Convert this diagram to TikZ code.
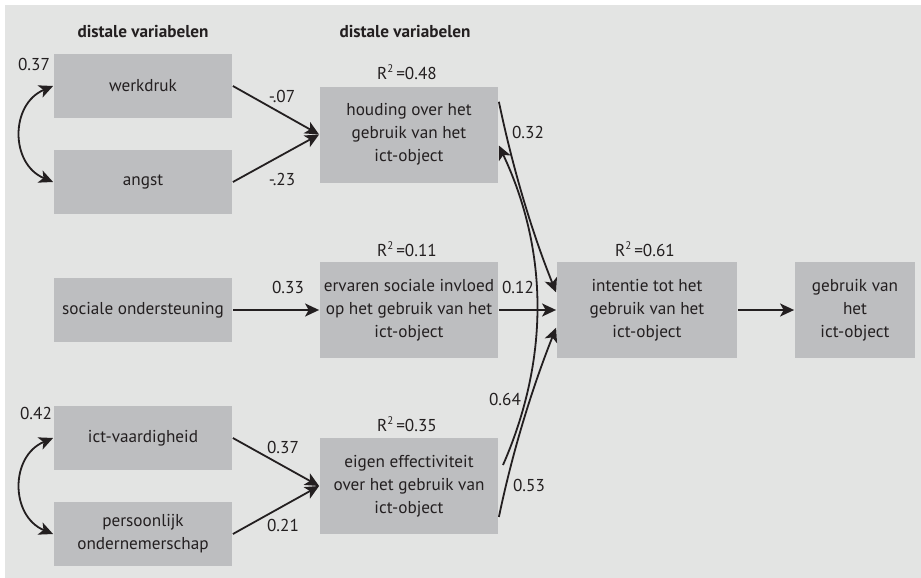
\documentclass[tikz,border=0pt]{standalone}
\usepackage{fontspec}
\setmainfont{PT Sans}
\usetikzlibrary{arrows.meta}
\definecolor{bgGrey}{HTML}{E3E4E3}
\definecolor{boxGrey}{HTML}{BDBEC0}
\definecolor{inkGrey}{HTML}{231F20}
\newcommand{\rkw}{R\raisebox{0.8ex}{\fontsize{5.5}{5.5}\selectfont 2}\,=}
\begin{document}
\begin{tikzpicture}[x=0.5pt, y=-0.5pt,
    font=\fontsize{8.6}{11.5}\selectfont, color=inkGrey, line width=0.9pt,
    >={Stealth[length=7pt,width=6.5pt,inset=1.8pt]},
    var/.style={fill=boxGrey, minimum width=89pt, minimum height=48pt, align=center, inner sep=0pt},
    lbl/.style={inner sep=0pt},
    kop/.style={font=\fontsize{8.6}{11.5}\selectfont\bfseries}]
  \useasboundingbox (0,0) rectangle (921,578);
  \fill[bgGrey] (5,5) rectangle (921,578);
  % HEADERS
  \node[kop] (kopLinks) at (143,32) {distale variabelen};
  \node[kop] (kopMidden) at (405,32) {distale variabelen};
  % DISTAL VARIABLES
  \node[var, minimum height=32pt] (werkdruk) at (143,86) {werkdruk};
  \node[var, minimum height=32pt] (angst) at (143,182) {angst};
  \node[var, minimum height=32pt] (socSteun) at (143,310) {sociale ondersteuning};
  \node[var, minimum height=32pt] (ictVaard) at (143,438) {ict-vaardigheid};
  \node[var, minimum height=32pt] (persOnd) at (143,534) {persoonlijk\\ondernemerschap};
  % PROXIMAL VARIABLES
  \node[var] (houding) at (409,134.5) {houding over het\\gebruik van het\\ict-object};
  \node[var] (socInvloed) at (409,310) {ervaren sociale invloed\\op het gebruik van het\\ict-object};
  \node[var] (eigenEff) at (409,486) {eigen effectiviteit\\over het gebruik van\\ict-object};
  \node[var, minimum width=90pt] (intentie) at (647,310) {intentie tot het\\gebruik van het\\ict-object};
  \node[var, minimum width=60pt] (gebruik) at (855,310) {gebruik van\\het\\ict-object};
  % R SQUARED
  \node[lbl] (rHouding) at (407,72) {\rkw0.48};
  \node[lbl] (rInvloed) at (407,249) {\rkw0.11};
  \node[lbl] (rEigen) at (407,424) {\rkw0.35};
  \node[lbl] (rIntentie) at (645,249) {\rkw0.61};
  % CORRELATIONS
  \draw[<->] (werkdruk.west) .. controls (10,104) and (10,164) .. (angst.west);
  \draw[<->] (ictVaard.west) .. controls (10,456) and (10,516) .. (persOnd.west);
  \node[lbl] (cTop) at (34,64) {0.37};
  \node[lbl] (cBottom) at (36,413) {0.42};
  % PATHS LEFT
  \draw[->] (werkdruk.east) -- (houding.west);
  \draw[->] (angst.east) -- (houding.west);
  \draw[->] (socSteun.east) -- (socInvloed.west);
  \draw[->] (ictVaard.east) -- (eigenEff.west);
  \draw[->] (persOnd.east) -- (eigenEff.west);
  \node[lbl] (bWerk) at (282,96) {-.07};
  \node[lbl] (bAngst) at (282,179) {-.23};
  \node[lbl] (bSteun) at (288,287) {0.33};
  \node[lbl] (bVaard) at (283,447) {0.37};
  \node[lbl] (bPers) at (283,525) {0.21};
  % PATHS RIGHT
  \coordinate (boogStart) at (503,465);
  \draw[->] (boogStart) .. controls (549,360) and (549,252) .. (houding.-7);
  \draw[->] (houding.20) .. controls (512,165) and (531,230) .. (intentie.169);
  \draw[->] (socInvloed.east) -- (intentie.west);
  \draw[->] (eigenEff.-19) .. controls (512,454) and (531,391) .. (intentie.191);
  \draw[->] (intentie.east) -- (gebruik.west);
  \node[lbl] (bHouding) at (528,132) {0.32};
  \node[lbl] (bInvloed) at (518,287) {0.12};
  \node[lbl] (bBoog) at (505,399) {0.64};
  \node[lbl] (bEigen) at (529,485) {0.53};
\end{tikzpicture}
\end{document}
